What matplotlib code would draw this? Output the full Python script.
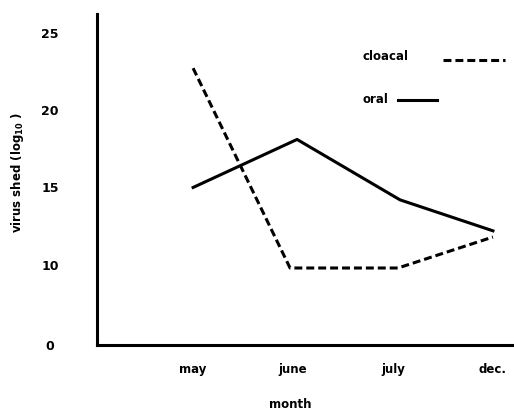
import matplotlib
matplotlib.use("Agg")
import matplotlib.pyplot as plt

months = ["may", "june", "july", "dec."]
cloacal = [22.7, 9.8, 9.8, 11.8]
oral = [15.0, 18.1, 14.2, 12.2]
ytick_vals = [4.84, 10, 15, 20, 25]
ytick_labels = ["0", "10", "15", "20", "25"]

plt.rcParams['font.family'] = ['DejaVu Sans']

fig = plt.figure(figsize=(5.14, 4.11), dpi=100)
ax = fig.add_axes([0.189, 0.161, 0.807, 0.805])

x = list(range(len(months)))
x_cl = [0, 0.97, 2.05, 3.0]
x_or = [0, 1.04, 2.07, 3.0]
dash = (0, (2.6, 1.3))
ax.plot(x_cl, cloacal, color='black', lw=2.2, ls=dash)
ax.plot(x_or, oral, color='black', lw=2.2)

ax.set_xlim(-0.96, 3.19)
ax.set_ylim(4.84, 26.2)
ax.set_xticks(x)
ax.set_xticklabels(months, fontweight='bold', fontsize=8.5)
ax.set_yticks(ytick_vals)
ax.set_yticklabels(ytick_labels, fontweight='bold', fontsize=9, ha='center')
ax.tick_params(length=0)
ax.tick_params(axis='y', pad=34)
ax.tick_params(axis='x', pad=13)

for s in ['top', 'right']:
    ax.spines[s].set_visible(False)
for s in ['left', 'bottom']:
    ax.spines[s].set_linewidth(2.2)

ax.set_xlabel("month", fontweight='bold', fontsize=8.5, va='center')
ax.xaxis.set_label_coords(0.465, -0.181)
ax.set_ylabel(r"virus shed (log$_{\mathbf{10}}$ )", fontweight='bold', fontsize=8.5, va='center')
ax.yaxis.set_label_coords(-0.193, 0.52)

# legend (manual)
ax.text(0.64, 0.87, "cloacal", transform=ax.transAxes, fontweight='bold', fontsize=8.5, va='center')
ax.plot([0.834, 0.983], [0.862, 0.862], transform=ax.transAxes, color='black', lw=2.2, ls=dash)
ax.text(0.64, 0.74, "oral", transform=ax.transAxes, fontweight='bold', fontsize=8.5, va='center')
ax.plot([0.725, 0.82], [0.74, 0.74], transform=ax.transAxes, color='black', lw=2.2)

fig.savefig("out.png", dpi=100)
